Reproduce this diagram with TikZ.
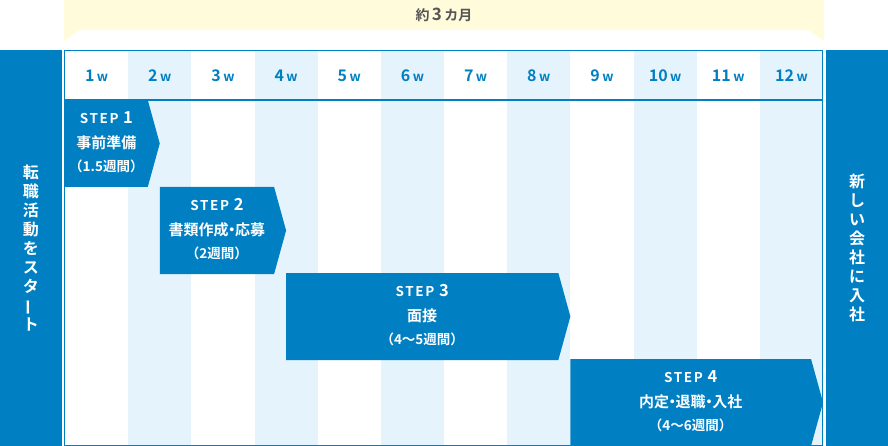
\documentclass[tikz,border=0pt]{standalone}
\usepackage{fontspec}
\setmainfont{Noto Sans CJK JP}[BoldFont={Noto Sans CJK JP Bold}]
\newfontfamily\steplat{Noto Sans CJK JP Bold}[LetterSpace=12]
\newcommand\mdot{\kern-.28em・\kern-.28em}
\definecolor{sblue}{HTML}{007FC3}
\definecolor{wkbg}{HTML}{E4F3FC}
\definecolor{spanbg}{HTML}{FFFBDB}
\definecolor{spantxt}{HTML}{555555}

\begin{document}
\begin{tikzpicture}[x=1pt,y=-1pt,
	wk/.style={sblue,font=\bfseries},
	side/.style={white,font=\fontsize{16}{19}\selectfont\bfseries,align=center},
	stp/.style={white,font=\fontsize{13.5}{13.5}\selectfont\steplat},
	nm/.style={white,font=\fontsize{15}{15}\selectfont\bfseries},
	dur/.style={white,font=\fontsize{13.5}{13.5}\selectfont\bfseries}]
	\useasboundingbox (0,0) rectangle (888,446);
	\fill[spanbg] (64,0) -- (824,0) -- (824,41) -- (808,30) -- (80,30) -- (64,41) -- cycle;
	\node[spantxt,font=\fontsize{14}{14}\selectfont\bfseries] (span) at (444,15) {約\,{\fontsize{17}{17}\selectfont 3}\,カ月};
	\fill[sblue] (0,50) rectangle (62,446);
	\fill[sblue] (826,50) rectangle (888,446);
	\node[side] (st) at (31,248) {転\\職\\活\\動\\を\\ス\\タ\\\rotatebox[origin=c]{90}{ー}\\ト};
	\node[side] (goal) at (857,248) {新\\し\\い\\会\\社\\に\\入\\社};
	\foreach \i in {2,4,...,12}
		\fill[wkbg] ({65+(\i-1)*63.17},51) rectangle ++(63.17,394);
	\foreach \i in {1,...,12}
		\node[wk] (w\i) at ({65+(\i-0.5)*63.17},76) {{\fontsize{16}{16}\selectfont\i}\kern.25em{\fontsize{13}{13}\selectfont w}};
	\foreach \n/\a/\b/\t/\lbl/\d in {1/0/1.5/100/事前準備/1.5週間, 2/1.5/3.5/187/書類作成\mdot 応募/2週間, 3/3.5/8/273/面接/4～5週間, 4/8/12/359/内定\mdot 退職\mdot 入社/4～6週間}{
		\fill[sblue] ({65+\a*63.17},\t) -- ({65+\b*63.17-12},\t) -- ({65+\b*63.17},\t+43.5) -- ({65+\b*63.17-12},\t+87) -- ({65+\a*63.17},\t+87) -- cycle;
		\node[nm] (s\n) at ({65+(\a+\b)*31.585-6},\t+43) {\lbl};
		\node[stp,above of=s\n,node distance=25pt] (p\n) {STEP {\fontsize{16.5}{16.5}\selectfont\n}};
		\node[dur,below of=s\n,node distance=23pt] (d\n) {（\d）};
	}
	\draw[sblue,line width=1.2pt] (64.6,50.6) rectangle (822.8,445.4);
	\draw[sblue,line width=1.2pt] (64.6,100) -- (822.8,100);
\end{tikzpicture}
\end{document}
